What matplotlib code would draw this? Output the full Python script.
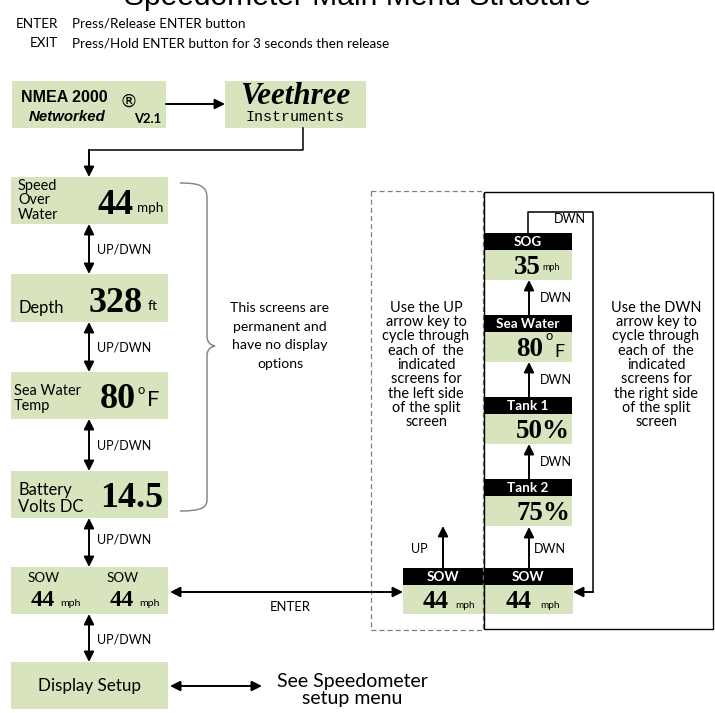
import matplotlib

matplotlib.use("Agg")
import matplotlib.pyplot as plt
from matplotlib.patches import Rectangle, PathPatch
from matplotlib.path import Path

# ---- content -------------------------------------------------------------
title = "Speedometer Main Menu Structure"
legend_keys = ["ENTER", "EXIT"]
legend_desc = ["Press/Release ENTER button",
               "Press/Hold ENTER button for 3 seconds then release"]

main_labels = ["Speed\nOver\nWater", "Depth", "Sea Water\nTemp", "Battery\nVolts DC"]
main_values = ["44", "328", "80", "14.5"]
main_units = ["mph", "ft", "F", ""]

split_names = ["SOW", "SOW"]
split_values = ["44", "44"]
split_units = ["mph", "mph"]

right_names = ["SOG", "Sea Water", "Tank 1", "Tank 2"]
right_values = ["35", "80", "50%", "75%"]
right_units = ["mph", "F", "", ""]

left_note = ("Use the UP\narrow key to\ncycle through\neach of  the\nindicated\n"
             "screens for\nthe left side\nof the split\nscreen")
right_note = ("Use the DWN\narrow key to\ncycle through\neach of  the\nindicated\n"
              "screens for\nthe right side\nof the split\nscreen")
bracket_note = "This screens are\npermanent and\nhave no display\noptions"

# ---- layout (pixel coordinates, y down) -----------------------------------
main_tops = [177, 274, 372, 471]
main_heights = [47, 48, 47, 47]
right_tops = [233, 315, 397, 479]

GREEN = "#d7e4bd"
SANS = "Lato"
SERIF = "Liberation Serif"


def px(v):
    # pixel size -> points at 100 dpi
    return v * 0.72


def box(ax, x0, y0, x1, y1, color=GREEN):
    ax.add_patch(Rectangle((x0, y0), x1 - x0, y1 - y0, facecolor=color,
                           edgecolor="none", zorder=1))


def arrow(ax, start, end, style="-|>"):
    ax.annotate("", xy=end, xytext=start,
                arrowprops=dict(arrowstyle=style, color="black", lw=1.4,
                                mutation_scale=15, shrinkA=0, shrinkB=0),
                zorder=3)


fig = plt.figure(figsize=(7.15, 7.13), dpi=100)
ax = fig.add_axes([0, 0, 1, 1])
ax.set_xlim(0, 715)
ax.set_ylim(713, 0)
ax.axis("off")

# title (cut off at the top) and key legend
ax.text(358, 5, title, ha="center", va="baseline", fontsize=px(30),
        family="Liberation Sans")
for i, (k, d) in enumerate(zip(legend_keys, legend_desc)):
    y = 24 + 19 * i
    ax.text(58, y, k, ha="right", va="center", fontsize=px(13.5), family=SANS)
    ax.text(72, y, d, ha="left", va="center", fontsize=px(13.5), family=SANS)

# NMEA and Veethree logos
box(ax, 12, 81, 166, 128)
ax.text(21, 98, "NMEA 2000", ha="left", va="center", fontsize=px(16),
        family="Liberation Sans", fontweight="bold")
ax.text(119, 102, "\u00ae", ha="left", va="center", fontsize=px(18),
        family="DejaVu Sans")
ax.text(29, 117, "Networked", ha="left", va="center", fontsize=px(15),
        family="Liberation Sans", fontweight="bold", style="italic")
ax.text(134, 119, "V2.1", ha="left", va="center", fontsize=px(13),
        family=SANS, fontweight="bold")
box(ax, 225, 81, 366, 128)
ax.text(295, 97, "Veethree", ha="center", va="center", fontsize=px(31),
        family=SERIF, fontweight="bold", style="italic")
ax.text(295, 117, "Instruments", ha="center", va="center", fontsize=px(15),
        family="Liberation Mono")
arrow(ax, (166, 104), (225, 104))
ax.plot([303, 303, 89], [128, 150, 150], color="black", lw=1.1, zorder=2)
arrow(ax, (89, 150), (89, 177))

# main screens
for i, (lab, val, unit) in enumerate(zip(main_labels, main_values, main_units)):
    top, h = main_tops[i], main_heights[i]
    box(ax, 11, top, 168, top + h)
    cy = top + h / 2
    if i == 0:
        ax.text(18, cy, lab, ha="left", va="center", fontsize=px(14.5),
                family=SANS, linespacing=1.02)
        ax.text(97, cy + 5, val, ha="left", va="center", fontsize=px(36),
                family=SERIF, fontweight="bold")
        ax.text(137, cy + 8, unit, ha="left", va="center", fontsize=px(13.5),
                family=SANS)
    elif i == 1:
        ax.text(18, cy + 10, lab, ha="left", va="center", fontsize=px(16.5),
                family=SANS)
        ax.text(89, cy + 6, val, ha="left", va="center", fontsize=px(36),
                family=SERIF, fontweight="bold")
        ax.text(148, cy + 8, unit, ha="left", va="center", fontsize=px(14),
                family=SANS)
    elif i == 2:
        ax.text(14, cy + 3, lab, ha="left", va="center", fontsize=px(14.5),
                family=SANS, linespacing=1.02)
        ax.text(100, cy + 4, val, ha="left", va="center", fontsize=px(36),
                family=SERIF, fontweight="bold")
        ax.text(137, cy - 6, "o", ha="left", va="center", fontsize=px(13),
                family=SANS)
        ax.text(147, cy + 5, unit, ha="left", va="center", fontsize=px(22),
                family=SANS)
    else:
        ax.text(18, cy + 4, lab, ha="left", va="center", fontsize=px(16.5),
                family=SANS, linespacing=1.05)
        ax.text(100, cy + 4, val, ha="left", va="center", fontsize=px(36),
                family=SERIF, fontweight="bold")

for i in range(len(main_tops) - 1):
    y0 = main_tops[i] + main_heights[i]
    y1 = main_tops[i + 1]
    arrow(ax, ((89), (y0 + y1) / 2), (89, y0), "-|>")
    arrow(ax, ((89), (y0 + y1) / 2), (89, y1), "-|>")
    ax.text(97, (y0 + y1) / 2, "UP/DWN", ha="left", va="center",
            fontsize=px(12.5), family=SANS)

# bracket
verts = [(180, 183), (200, 183), (207, 186), (207, 198),
         (207, 336), (207, 342), (210, 345), (215, 346),
         (210, 347), (207, 350), (207, 356),
         (207, 500), (207, 508), (200, 511), (180, 511)]
codes = [Path.MOVETO, Path.CURVE4, Path.CURVE4, Path.CURVE4,
         Path.LINETO, Path.CURVE4, Path.CURVE4, Path.CURVE4,
         Path.CURVE4, Path.CURVE4, Path.CURVE4,
         Path.LINETO, Path.CURVE4, Path.CURVE4, Path.CURVE4]
ax.add_patch(PathPatch(Path(verts, codes), facecolor="none", edgecolor="#7f7f7f",
                       lw=1.0, zorder=2))
ax.text(280, 336, bracket_note, ha="center", va="center", fontsize=px(14),
        family=SANS, linespacing=1.68)

# split screen on the left column
split_top = 567
box(ax, 11, split_top, 168, 614)
for j, (n, v, u) in enumerate(zip(split_names, split_values, split_units)):
    x0 = 30 + 79 * j
    ax.text(x0 + 14, 578, n, ha="center", va="center", fontsize=px(13.5), family=SANS)
    ax.text(x0 + 1, 600, v, ha="left", va="center", fontsize=px(24),
            family=SERIF, fontweight="bold")
    ax.text(x0 + 30, 603, u, ha="left", va="center", fontsize=px(10.5), family=SANS)
arrow(ax, (89, 543), (89, 518))
arrow(ax, (89, 543), (89, 567))
ax.text(97, 540, "UP/DWN", ha="left", va="center", fontsize=px(12.5), family=SANS)

# display setup
box(ax, 11, 662, 168, 709)
ax.text(89, 686, "Display Setup", ha="center", va="center", fontsize=px(17),
        family=SANS)
arrow(ax, (89, 638), (89, 614))
arrow(ax, (89, 638), (89, 662))
ax.text(97, 640, "UP/DWN", ha="left", va="center", fontsize=px(12.5), family=SANS)
arrow(ax, (216, 686), (170, 686))
arrow(ax, (216, 686), (262, 686))
ax.text(352, 690, "See Speedometer\nsetup menu", ha="center", va="center",
        fontsize=px(19.5), family=SANS, linespacing=1.05)

# ENTER link to the split-screen editor
arrow(ax, (286, 592), (170, 592))
arrow(ax, (286, 592), (403, 592))
ax.text(290, 607, "ENTER", ha="center", va="center", fontsize=px(13), family=SANS)

# dashed (left side) and solid (right side) frames
ax.add_patch(Rectangle((371, 191), 112, 439, facecolor="none", edgecolor="#7f7f7f",
                       lw=0.9, ls=(0, (4, 2.5)), zorder=2))
ax.add_patch(Rectangle((484, 192), 229, 437, facecolor="none", edgecolor="black",
                       lw=1.0, zorder=2))
ax.text(426, 365, left_note, ha="center", va="center", fontsize=px(14.5),
        family=SANS, linespacing=1.03)
ax.text(656, 365, right_note, ha="center", va="center", fontsize=px(14.5),
        family=SANS, linespacing=1.03)

# right-side screens
for i, (n, v, u) in enumerate(zip(right_names, right_values, right_units)):
    top = right_tops[i]
    box(ax, 484, top, 572, top + 17, "black")
    box(ax, 484, top + 17, 572, top + 47)
    ax.text(528, top + 9, n, ha="center", va="center", fontsize=px(13.5),
            family=SANS, fontweight="bold", color="white", zorder=3)
    cy = top + 33
    if i == 0:
        ax.text(514, cy + 1, v, ha="left", va="center", fontsize=px(27),
                family=SERIF, fontweight="bold")
        ax.text(542, cy + 2, u, ha="left", va="center", fontsize=px(9), family=SANS)
    elif i == 1:
        ax.text(516, cy + 2, v, ha="left", va="center", fontsize=px(27),
                family=SERIF, fontweight="bold")
        ax.text(546, cy - 12, "o", ha="left", va="center", fontsize=px(13),
                family=SANS)
        ax.text(554, cy + 4, u, ha="left", va="center", fontsize=px(18), family=SANS)
    else:
        ax.text(516, cy + 1, v, ha="left", va="center", fontsize=px(27),
                family=SERIF, fontweight="bold")

for i in range(len(right_tops) - 1):
    y0 = right_tops[i] + 47
    y1 = right_tops[i + 1]
    arrow(ax, (529, y1), (529, y0))
    ax.text(540, (y0 + y1) / 2, "DWN", ha="left", va="center",
            fontsize=px(12.5), family=SANS)

# bottom split screen (left / right halves)
box(ax, 403, 568, 573, 585, "black")
box(ax, 403, 585, 573, 614)
for j, (n, v, u) in enumerate(zip(split_names, split_values, split_units)):
    cx = 443 + 85 * j
    ax.text(cx, 577, n, ha="center", va="center", fontsize=px(13.5),
            family=SANS, fontweight="bold", color="white", zorder=3)
    ax.text(cx - 20 - 2 * j, 601, v, ha="left", va="center", fontsize=px(26),
            family=SERIF, fontweight="bold")
    ax.text(cx + 12, 605, u, ha="left", va="center", fontsize=px(10), family=SANS)

arrow(ax, (529, 568), (529, 527))
ax.text(534, 549, "DWN", ha="left", va="center", fontsize=px(12.5), family=SANS)
arrow(ax, (443, 568), (443, 526))
ax.text(419, 549, "UP", ha="center", va="center", fontsize=px(12.5), family=SANS)

# wrap-around loop from SOG back to the split screen
ax.plot([528, 528, 593, 593], [233, 212, 212, 592], color="black", lw=1.1, zorder=2)
arrow(ax, (593, 592), (573, 592))
ax.text(554, 219, "DWN", ha="left", va="center", fontsize=px(12.5), family=SANS)

fig.savefig("out.png", dpi=100)
